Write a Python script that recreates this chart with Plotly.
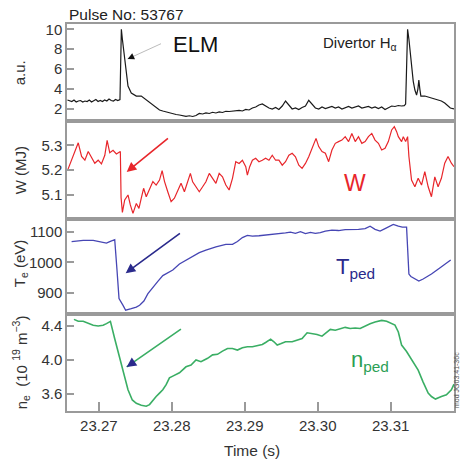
import plotly.graph_objects as go

# ---------------- data ----------------
ha_time = [23.2657, 23.2660, 23.2663, 23.2666, 23.2669, 23.2672, 23.2675, 23.2678, 23.2681, 23.2684,
           23.2687, 23.2690, 23.2693, 23.2696, 23.2699, 23.2702, 23.2705, 23.2708, 23.2711, 23.2714,
           23.2717, 23.2720, 23.2723, 23.2726, 23.2729,
           23.27295, 23.27309, 23.27323, 23.27341, 23.27355, 23.27377, 23.27400, 23.27445, 23.27514,
           23.27582, 23.27650, 23.27741, 23.27832, 23.27877, 23.27923, 23.27968, 23.28014, 23.28059,
           23.28105, 23.28150, 23.28195, 23.28241, 23.28286, 23.28332, 23.28377,
           23.28423, 23.28468, 23.28514, 23.28559, 23.28605, 23.28650, 23.28695, 23.28741, 23.28786,
           23.28832, 23.28877, 23.28923, 23.28968, 23.29014, 23.29059, 23.29105, 23.29150, 23.29195,
           23.29241, 23.29286, 23.29332, 23.29377, 23.29423, 23.29468, 23.29514, 23.29559, 23.29605,
           23.29650, 23.29695, 23.29741, 23.29786, 23.29832, 23.29877, 23.29923, 23.29968, 23.30014,
           23.30059, 23.30105, 23.30150, 23.30195, 23.30241, 23.30286, 23.30332, 23.30377, 23.30423,
           23.30468, 23.30514, 23.30559, 23.30605, 23.30650, 23.30695, 23.30741, 23.30786, 23.30832,
           23.30877, 23.30923, 23.30968, 23.31014, 23.31059, 23.31105, 23.31150, 23.31186, 23.31205,
           23.31218, 23.31232, 23.31250, 23.31268, 23.31286, 23.31309, 23.31332, 23.31355, 23.31373,
           23.31386, 23.31400, 23.31414, 23.31468, 23.31514, 23.31559, 23.31605, 23.31650, 23.31695,
           23.31741, 23.31786, 23.31818, 23.31868]
ha_value = [2.9, 2.8, 2.75, 2.9, 2.7, 2.8, 2.85, 2.7, 2.8, 2.75,
            2.9, 2.7, 2.8, 2.95, 2.75, 2.85, 2.75, 2.9, 2.8, 3.0,
            2.85, 2.8, 2.95, 2.85, 2.95,
            5.0, 10.0, 9.0, 7.9, 6.9, 5.3, 4.3, 3.6, 3.3,
            3.3, 2.9, 2.4, 1.9, 1.8, 1.7, 1.6, 1.55, 1.45,
            1.4, 1.35, 1.27, 1.32, 1.25, 1.35, 1.55,
            1.5, 1.6, 1.55, 1.67, 1.6, 1.7, 1.65, 1.77, 1.75,
            1.8, 1.85, 1.87, 1.8, 1.95, 1.9, 2.1, 2.2, 2.4,
            2.5, 2.3, 2.1, 2.0, 2.15, 1.95, 2.3, 2.8, 2.4,
            2.0, 2.1, 1.95, 2.15, 2.3, 2.87, 2.5, 2.1, 2.0,
            2.2, 2.05, 2.15, 2.25, 2.1, 2.2, 2.0, 2.15, 2.25,
            2.1, 2.2, 2.3, 2.1, 2.15, 2.25, 2.1, 2.2, 2.05,
            2.2, 1.95, 2.1, 2.3, 2.25, 2.35, 2.3, 2.33, 2.5,
            6.0, 10.0, 9.0, 7.5, 6.3, 4.8, 3.9, 3.4, 4.0,
            4.9, 4.0, 3.3, 3.3, 3.2, 3.1, 3.0, 2.9, 2.8,
            2.6, 2.3, 2.1, 2.0]

w_time = [23.26573, 23.26627, 23.26718, 23.26764, 23.26809, 23.26855, 23.26900, 23.26945, 23.26991,
          23.27036, 23.27082, 23.27114, 23.27150, 23.27195, 23.27241, 23.27268, 23.27295, 23.27305,
          23.27323, 23.27355, 23.27400, 23.27432, 23.27468, 23.27514, 23.27550, 23.27582, 23.27614,
          23.27650, 23.27695, 23.27741, 23.27786, 23.27832, 23.27868, 23.27900, 23.27945, 23.27991,
          23.28036, 23.28082, 23.28127, 23.28173, 23.28218, 23.28255, 23.28286, 23.28332, 23.28377,
          23.28423, 23.28468, 23.28514, 23.28559, 23.28605, 23.28650, 23.28695, 23.28741, 23.28786,
          23.28832, 23.28877, 23.28923, 23.28968, 23.29014, 23.29036, 23.29068, 23.29105, 23.29150,
          23.29195, 23.29241, 23.29286, 23.29332, 23.29377, 23.29423, 23.29468, 23.29514, 23.29559,
          23.29605, 23.29650, 23.29695, 23.29741, 23.29786, 23.29832, 23.29877, 23.29923, 23.29977,
          23.30014, 23.30059, 23.30105, 23.30150, 23.30195, 23.30241, 23.30286, 23.30332, 23.30377,
          23.30423, 23.30468, 23.30514, 23.30559, 23.30605, 23.30650, 23.30695, 23.30741, 23.30786,
          23.30832, 23.30877, 23.30923, 23.30968, 23.31014, 23.31050, 23.31082, 23.31105, 23.31150,
          23.31173, 23.31205, 23.31232, 23.31250, 23.31286, 23.31332, 23.31377, 23.31423, 23.31468,
          23.31514, 23.31559, 23.31605, 23.31650, 23.31695, 23.31741, 23.31786, 23.31832, 23.31868]
w_value = [5.20, 5.24, 5.31, 5.255, 5.24, 5.275, 5.25, 5.228, 5.24,
           5.225, 5.26, 5.32, 5.27, 5.28, 5.265, 5.27, 5.275, 5.09,
           5.03, 5.08, 5.10, 5.06, 5.026, 5.066, 5.046, 5.087, 5.127,
           5.093, 5.12, 5.154, 5.14, 5.16, 5.198, 5.155, 5.113, 5.073,
           5.087, 5.12, 5.147, 5.113, 5.153, 5.187, 5.153, 5.133, 5.113,
           5.133, 5.153, 5.187, 5.167, 5.147, 5.187, 5.173, 5.14, 5.12,
           5.167, 5.234, 5.227, 5.24, 5.214, 5.18, 5.214, 5.24, 5.248,
           5.234, 5.24, 5.248, 5.24, 5.26, 5.24, 5.24, 5.22, 5.234,
           5.26, 5.268, 5.254, 5.22, 5.207, 5.227, 5.254, 5.288, 5.328,
           5.295, 5.275, 5.268, 5.234, 5.281, 5.308, 5.315, 5.321, 5.335,
           5.315, 5.348, 5.315, 5.335, 5.308, 5.315, 5.335, 5.348, 5.321,
           5.308, 5.281, 5.288, 5.315, 5.362, 5.375, 5.355, 5.335, 5.315,
           5.335, 5.315, 5.335, 5.255, 5.16, 5.133, 5.167, 5.14, 5.194,
           5.133, 5.093, 5.173, 5.133, 5.167, 5.228, 5.255, 5.228, 5.214]

te_time = [23.26627, 23.26786, 23.26923, 23.27014, 23.27105, 23.27150, 23.27218, 23.27250, 23.27277,
           23.27332, 23.27368, 23.27445, 23.27514, 23.27559, 23.27618, 23.27673, 23.27732, 23.27809,
           23.27877, 23.27968, 23.28014, 23.28105, 23.28195, 23.28286, 23.28377, 23.28468, 23.28605,
           23.28741, 23.28832, 23.28900, 23.28968, 23.29036, 23.29105, 23.29195, 23.29286, 23.29355,
           23.29423, 23.29491, 23.29559, 23.29627, 23.29695, 23.29764, 23.29832, 23.29900, 23.29968,
           23.30036, 23.30105, 23.30195, 23.30286, 23.30377, 23.30468, 23.30559, 23.30650, 23.30718,
           23.30786, 23.30855, 23.30923, 23.30991, 23.31036, 23.31105, 23.31159, 23.31218, 23.31250,
           23.31277, 23.31332, 23.31386, 23.31445, 23.31559, 23.31673, 23.31764, 23.31823]
te_value = [1068, 1072, 1072, 1068, 1063, 1068, 1074, 973, 882,
            860, 844, 849, 854, 860, 874, 898, 917, 938,
            957, 968, 975, 995, 1007, 1021, 1032, 1040, 1051,
            1059, 1059, 1068, 1081, 1088, 1086, 1087, 1089, 1091,
            1091, 1094, 1096, 1099, 1095, 1100, 1094, 1098, 1095,
            1097, 1102, 1105, 1104, 1107, 1107, 1108, 1110, 1118,
            1108, 1102, 1110, 1118, 1124, 1118, 1115, 1115, 962,
            954, 946, 939, 946, 962, 982, 998, 1008]

ne_time = [23.26659, 23.26718, 23.26786, 23.26855, 23.26923, 23.26991, 23.27059, 23.27105, 23.27159,
           23.27218, 23.27286, 23.27355, 23.27400, 23.27459, 23.27514, 23.27582, 23.27650, 23.27695,
           23.27741, 23.27786, 23.27832, 23.27877, 23.27923, 23.27968, 23.28014, 23.28105, 23.28195,
           23.28264, 23.28332, 23.28400, 23.28445, 23.28491, 23.28559, 23.28627, 23.28695, 23.28764,
           23.28832, 23.28900, 23.28968, 23.29036, 23.29105, 23.29173, 23.29241, 23.29286, 23.29355,
           23.29400, 23.29445, 23.29491, 23.29559, 23.29650, 23.29718, 23.29786, 23.29855, 23.29923,
           23.29991, 23.30059, 23.30127, 23.30173, 23.30241, 23.30309, 23.30377, 23.30445, 23.30514,
           23.30582, 23.30650, 23.30718, 23.30786, 23.30877, 23.30945, 23.31014, 23.31059, 23.31105,
           23.31150, 23.31218, 23.31309, 23.31377, 23.31445, 23.31514, 23.31559, 23.31614, 23.31695,
           23.31764, 23.31832, 23.31868]
ne_value = [4.478, 4.455, 4.455, 4.428, 4.408, 4.40, 4.408, 4.428, 4.454,
            4.25, 4.02, 3.81, 3.65, 3.53, 3.49, 3.468, 3.456, 3.475,
            3.53, 3.57, 3.61, 3.65, 3.71, 3.79, 3.81, 3.85, 3.92,
            3.94, 4.0, 3.98, 4.0, 4.02, 4.06, 4.067, 4.105, 4.136,
            4.136, 4.117, 4.144, 4.155, 4.155, 4.167, 4.182, 4.206, 4.245,
            4.214, 4.175, 4.19, 4.214, 4.214, 4.233, 4.253, 4.32, 4.31,
            4.3, 4.28, 4.33, 4.36, 4.35, 4.37, 4.384, 4.37, 4.376,
            4.37, 4.40, 4.427, 4.447, 4.466, 4.455, 4.427, 4.41, 4.33,
            4.175, 4.1, 3.98, 3.88, 3.74, 3.61, 3.57, 3.54, 3.57,
            3.59, 3.65, 3.716]

x_ticks = [23.27, 23.28, 23.29, 23.30, 23.31]
x_ticktext = ["23.27", "23.28", "23.29", "23.30", "23.31"]
ha_ticks = [2, 4, 6, 8, 10]
w_ticks = [5.1, 5.2, 5.3]
te_ticks = [900, 1000, 1100]
ne_ticks = [3.6, 4.0, 4.4]
ne_ticktext = ["3.6", "4.0", "4.4"]

# ---------------- figure ----------------
W_PX, H_PX = 463, 461
ML, MR, MT, MB = 67, 7, 24, 50
PW, PH = W_PX - ML - MR, H_PX - MT - MB


def px(x):
    return (x - ML) / PW


def py(y):
    return (H_PX - MB - y) / PH


FONT = "Liberation Sans, Arial, sans-serif"
FRAME = "#9a9a9a"
RED = "#e8262b"
BLUE = "#4646b4"
NAVY = "#2a2a8c"
GREEN = "#3aae64"
GREEN_T = "#2ba055"

fig = go.Figure()
fig.add_trace(go.Scatter(x=ha_time, y=ha_value, mode="lines", line=dict(color="#1a1a1a", width=1.2),
                         xaxis="x", yaxis="y", showlegend=False))
fig.add_trace(go.Scatter(x=w_time, y=w_value, mode="lines", line=dict(color=RED, width=1.2),
                         xaxis="x2", yaxis="y2", showlegend=False))
fig.add_trace(go.Scatter(x=te_time, y=te_value, mode="lines", line=dict(color=BLUE, width=1.3),
                         xaxis="x3", yaxis="y3", showlegend=False))
fig.add_trace(go.Scatter(x=ne_time, y=ne_value, mode="lines", line=dict(color=GREEN, width=1.6),
                         xaxis="x4", yaxis="y4", showlegend=False))

xr = [23.26564, 23.31868]
doms = [[py(121), 1.0], [py(219.3), py(121)], [py(314), py(219.3)], [0.0, py(314)]]
yranges = [[0.795, 10.53], [5.002, 5.398], [831.7, 1140.6], [3.4, 4.541]]
ytv = [ha_ticks, w_ticks, te_ticks, ne_ticks]
ytt = [[str(v) for v in ha_ticks], [str(v) for v in w_ticks], [str(v) for v in te_ticks], ne_ticktext]

layout = dict(
    width=W_PX, height=H_PX,
    margin=dict(l=ML, r=MR, t=MT, b=MB),
    paper_bgcolor="white", plot_bgcolor="white",
    font=dict(family=FONT, size=15, color="#333333"),
    showlegend=False,
)
for i in range(4):
    xn = "xaxis" if i == 0 else f"xaxis{i+1}"
    yn = "yaxis" if i == 0 else f"yaxis{i+1}"
    ya = "y" if i == 0 else f"y{i+1}"
    xa = "x" if i == 0 else f"x{i+1}"
    bottom = (i == 3)
    layout[xn] = dict(
        domain=[0, 1], anchor=ya, range=xr, showgrid=False, zeroline=False,
        showline=True, mirror=True, linecolor=FRAME, linewidth=1.5,
        ticks="inside" if bottom else "", ticklen=9, tickcolor=FRAME, tickwidth=1.5,
        tickvals=x_ticks if bottom else [], ticktext=x_ticktext if bottom else [],
        showticklabels=bottom, tickfont=dict(size=15, color="#333333"),
    )
    if i > 0:
        layout[xn]["matches"] = "x"
    layout[yn] = dict(
        domain=doms[i], anchor=xa, range=yranges[i], showgrid=False, zeroline=False,
        showline=True, mirror=True, linecolor=FRAME, linewidth=1.5,
        ticks="inside", ticklen=7, tickcolor=FRAME, tickwidth=1.5,
        tickvals=ytv[i], ticktext=ytt[i], tickfont=dict(size=15, color="#333333"),
    )
fig.update_layout(**layout)

ann = []


def text(xp, yp, s, size, color="#222222", angle=0, xanchor="center", yanchor="middle"):
    ann.append(dict(x=px(xp), y=py(yp), xref="paper", yref="paper", text=s, showarrow=False,
                    font=dict(size=size, color=color, family=FONT), textangle=angle,
                    xanchor=xanchor, yanchor=yanchor))


text(67, 15, "Pulse No: 53767", 15.5, "#222222", xanchor="left")
text(196, 44, "ELM", 22, "#111111")
text(322, 43, "Divertor H<sub>α</sub>", 15, "#222222", xanchor="left")
text(356, 183, "W", 23, RED)
text(335, 268, "T<sub>ped</sub>", 22, NAVY, xanchor="left")
text(350, 361, "n<sub>ped</sub>", 22, GREEN_T, xanchor="left")
text(20, 73, "a.u.", 15, "#333333", angle=-90)
text(20, 170, "W (MJ)", 15, "#333333", angle=-90)
text(20, 263, "T<sub>e</sub> (eV)", 15, "#333333", angle=-90)
text(20, 362, "n<sub>e</sub>  (10 <sup>19</sup> m<sup>−3</sup>)", 15, "#333333", angle=-90)
text(253, 450, "Time (s)", 15.5, "#333333")
text(458, 380, "mod JG03.41-36c", 7, "#555555", angle=-90)


def arrow(xr_, yr_, x0, y0, x1, y1, color, width=1.3, head=2, size=1.0):
    ann.append(dict(x=x1, y=y1, ax=x0, ay=y0, xref=xr_, yref=yr_, axref=xr_, ayref=yr_,
                    text="", showarrow=True, arrowhead=head, arrowsize=size,
                    arrowwidth=width, arrowcolor=color))


# ELM arrow: light grey shaft, black head
arrow("x", "y", 23.27873, 8.62, 23.27395, 7.02, "#aaaaaa", 0.8, 0, 1)
arrow("x", "y", 23.27460, 7.24, 23.27395, 7.02, "#111111", 1.2, 2, 1.1)
# W arrow
arrow("x2", "y2", 23.27968, 5.333, 23.27382, 5.193, RED, 1.6, 2, 1.2)
# Te arrow
arrow("x3", "y3", 23.28132, 1098, 23.27368, 965, NAVY, 1.6, 2, 1.2)
# ne arrow: green shaft, navy head
arrow("x4", "y4", 23.28146, 4.376, 23.27382, 3.918, GREEN, 1.6, 0, 1)
arrow("x4", "y4", 23.27460, 3.965, 23.27382, 3.918, NAVY, 1.6, 2, 1.2)

fig.update_layout(annotations=ann)
fig.write_html("out.html", config={"displayModeBar": False},
               post_script="document.body.style.margin='0';")
